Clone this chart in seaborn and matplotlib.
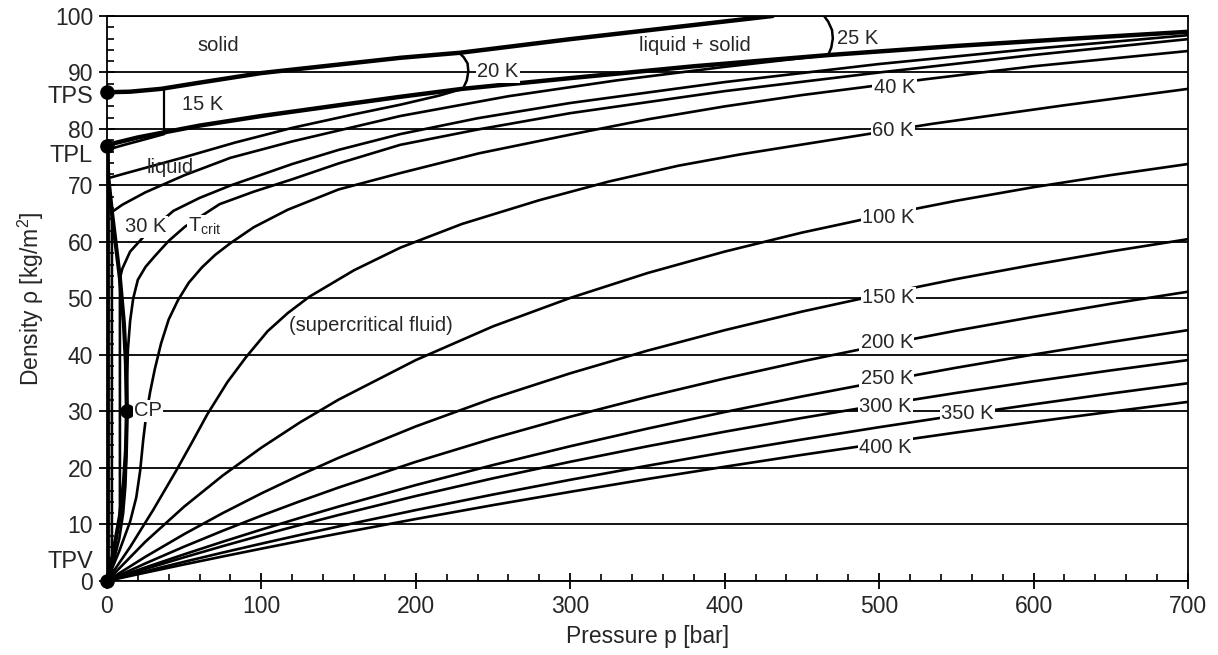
import matplotlib
matplotlib.use("Agg")
import matplotlib.pyplot as plt
from matplotlib.ticker import MultipleLocator
import seaborn as sns

# ── values (pressure in bar, density in kg/m3) ────────────────────────────
SOLID_P   = [0, 15, 35, 60, 100, 150, 190, 229, 300, 431]
SOLID_RHO = [86.5, 86.6, 87.1, 88.2, 89.9, 91.4, 92.6, 93.5, 95.9, 100.0]

MELT_P   = [0, 5, 20, 37, 60, 100, 150, 190, 230, 300, 380, 468, 550, 620, 700]
MELT_RHO = [77.0, 77.5, 78.5, 79.4, 80.6, 82.3, 84.2, 85.7, 87.1, 89.0, 91.1, 93.1, 94.7, 95.9, 97.2]

# saturation dome
DOME_LIQ_P   = [0, 0.9, 3.2, 8.4, 11, 12.3, 12.9]
DOME_LIQ_RHO = [77.0, 71.3, 65.3, 53.6, 45.5, 38.5, 30]
DOME_VAP_P   = [0, 0.9, 3.2, 8.4, 11, 12.3, 12.9]
DOME_VAP_RHO = [0, 1.2, 3.6, 11.5, 17.5, 23.0, 30]

# bracket-style isotherms in the liquid + solid region
K15_P, K15_RHO = [37, 37], [79.4, 87.1]
K20B_P   = [228, 231, 233.5, 234, 233, 230.5]
K20B_RHO = [93.5, 92.7, 91.6, 90.2, 88.6, 87.1]
K25B_P   = [463, 467, 469.5, 470, 469, 467]
K25B_RHO = [100.5, 99.0, 97.5, 96.0, 94.4, 93.1]

# liquid / supercritical isotherms
K15_LIQ_P, K15_LIQ_RHO = [0.1, 10, 25, 37], [76.3, 77.1, 78.2, 79.1]
K20_P   = [0.9, 0.9, 10, 30, 50, 83, 120, 160, 190, 215, 230]
K20_RHO = [1.2, 71.3, 72.0, 73.5, 75.0, 77.6, 80.2, 82.6, 84.3, 85.9, 87.1]
K25_P   = [3.2, 3.2, 10, 25, 50, 80, 120, 190, 260, 330, 400, 468]
K25_RHO = [3.6, 65.3, 66.6, 68.8, 71.8, 74.9, 77.8, 82.3, 85.8, 88.6, 91.0, 93.1]
K30_P   = [8.4, 8.4, 10, 15, 25, 43, 60, 80, 120, 150, 190, 240, 300, 400, 500, 600, 700]
K30_RHO = [11.5, 53.6, 55.3, 58.3, 61.3, 65.5, 67.8, 70.0, 73.8, 76.3, 79.1, 81.9,
           84.6, 88.3, 91.5, 94.2, 96.6]
KCRIT_P   = [0, 4, 8, 10.5, 12, 12.7, 12.9, 13.1, 13.6, 15, 17, 20, 25, 31, 40, 50.5,
             73, 95, 120, 150, 190, 240, 300, 400, 500, 600, 700]
KCRIT_RHO = [0, 3.2, 7.5, 12, 17, 23, 30, 36, 41, 46, 50, 53.3, 55.6, 57.5, 60.2, 62.7,
             66.7, 68.9, 71.1, 73.9, 77.2, 79.9, 82.8, 86.7, 90.0, 93.1, 95.9]
K40_P   = [0, 8, 15, 19, 21.5, 23.5, 25.5, 28, 31, 35, 40, 46, 53, 61.5, 70, 80, 95,
           117, 150, 190, 241, 300, 350, 400, 450, 490, 530, 600, 700]
K40_RHO = [0, 5.3, 10.5, 14.8, 19.5, 25.0, 29.5, 33.5, 37.5, 42.0, 46.3, 49.7, 52.8,
           55.5, 57.7, 59.8, 62.6, 65.7, 69.3, 72.2, 75.7, 79.0, 81.7, 84.0, 86.0,
           87.4, 88.8, 91.1, 93.8]
K60_P   = [0, 15, 30, 45, 55, 65, 78, 90, 104, 117, 131, 160, 190, 230, 280, 325, 370,
           410, 449, 534, 620, 700]
K60_RHO = [0, 6.0, 12.6, 19.6, 24.5, 29.5, 35.2, 39.6, 44.2, 47.4, 50.3, 55.0, 59.0,
           63.2, 67.4, 70.7, 73.5, 75.5, 77.2, 80.9, 84.2, 87.1]

GAS_P    = [0, 25, 50, 75, 100, 125, 150, 200, 250, 300, 350, 400, 450, 500, 550, 600, 650, 700]
K100_RHO = [0, 6.98, 13.16, 18.67, 23.6, 28.07, 32.1, 39.1, 45.07, 50.1, 54.50, 58.3,
            61.66, 64.6, 67.30, 69.7, 71.84, 73.8]
K150_RHO = [0, 4.30, 8.29, 12.02, 15.50, 18.75, 21.80, 27.36, 32.33, 36.76, 40.77,
            44.39, 47.68, 50.66, 53.44, 55.97, 58.33, 60.5]
K200_RHO = [0, 3.12, 6.08, 8.89, 11.56, 14.11, 16.54, 21.09, 25.25, 29.07, 32.59,
            35.84, 38.87, 41.67, 44.31, 46.75, 49.06, 51.2]
K250_RHO = [0, 2.41, 4.72, 6.95, 9.10, 11.17, 13.17, 16.98, 20.52, 23.85, 26.97,
            29.90, 32.66, 35.26, 37.75, 40.08, 42.29, 44.4]
K300_RHO = [0, 2.14, 4.19, 6.17, 8.08, 9.91, 11.68, 15.04, 18.17, 21.10, 23.84,
            26.42, 28.85, 31.13, 33.29, 35.34, 37.27, 39.1]
K350_RHO = [0, 1.72, 3.40, 5.03, 6.61, 8.15, 9.66, 12.55, 15.30, 17.91, 20.40,
            22.78, 25.04, 27.22, 29.29, 31.27, 33.18, 35.0]
K400_RHO = [0, 1.48, 2.93, 4.34, 5.72, 7.08, 8.40, 10.97, 13.43, 15.78, 18.05,
            20.22, 22.32, 24.33, 26.28, 28.15, 29.95, 31.7]

# special points
POINT_NAMES = ["TPS", "TPL", "TPV", "CP"]
POINT_P     = [0, 0, 0, 12.9]
POINT_RHO   = [86.5, 77.0, 0, 30]

# curve labels: text, pressure, density
CURVE_LABELS = [
    ("20 K", 253, 90.1), ("25 K", 486, 96.1), ("40 K", 510, 87.4),
    ("60 K", 509, 79.8), ("100 K", 506, 64.4), ("150 K", 506, 50.1),
    ("200 K", 505, 42.2), ("250 K", 505, 35.8), ("300 K", 504, 30.8),
    ("350 K", 557, 29.7), ("400 K", 504, 23.7), ("30 K", 25, 62.7),
    ("T$_{\\mathrm{crit}}$", 63.5, 62.7), ("CP", 26.5, 30.1),
]
REGION_LABELS = [
    ("solid", 72, 94.7), ("15 K", 62, 84.4), ("liquid + solid", 381, 94.7),
    ("liquid", 41, 73.1),
]

sns.set_style("white")
plt.rcParams["font.family"] = ["Liberation Sans", "DejaVu Sans"]
plt.rcParams["mathtext.fontset"] = "custom"
plt.rcParams["mathtext.rm"] = "Liberation Sans"
plt.rcParams["mathtext.it"] = "Liberation Sans"

fig = plt.figure(figsize=(12.18, 6.55), dpi=100)
ax = fig.add_axes([0.0878, 0.1130, 0.8876, 0.8626])


def curve(p, rho, lw=1.9):
    sns.lineplot(x=p, y=rho, sort=False, estimator=None, color="black",
                 linewidth=lw, ax=ax, zorder=3)


# thick phase boundaries
curve([0, 0], [0, 77.0], lw=4.0)
curve(SOLID_P, SOLID_RHO, lw=3.2)
curve(MELT_P, MELT_RHO, lw=3.2)
curve(DOME_LIQ_P, DOME_LIQ_RHO, lw=3.0)
curve(DOME_VAP_P, DOME_VAP_RHO, lw=3.0)

# isotherms
curve(K15_P, K15_RHO, lw=1.6)
curve(K20B_P, K20B_RHO, lw=1.8)
curve(K25B_P, K25B_RHO, lw=1.8)
curve(K15_LIQ_P, K15_LIQ_RHO)
for p, rho in [(K20_P, K20_RHO), (K25_P, K25_RHO), (K30_P, K30_RHO),
               (KCRIT_P, KCRIT_RHO), (K40_P, K40_RHO), (K60_P, K60_RHO)]:
    curve(p, rho)
for rho in [K100_RHO, K150_RHO, K200_RHO, K250_RHO, K300_RHO, K350_RHO, K400_RHO]:
    curve(GAS_P, rho)

# triple points and critical point
ax.scatter(POINT_P, POINT_RHO, s=90, color="black", zorder=5, clip_on=False)
for name, rho in zip(POINT_NAMES[:3], [85.7, 75.2, 3.4]):
    ax.text(-0.013, rho, name, transform=ax.get_yaxis_transform(),
            ha="right", va="center", fontsize=17)

box = dict(facecolor="white", edgecolor="none", pad=1.0)
for text, p, rho in CURVE_LABELS:
    ax.text(p, rho, text, ha="center", va="center", fontsize=14.5,
            bbox=box, zorder=6)
for text, p, rho in REGION_LABELS:
    ax.text(p, rho, text, ha="center", va="center", fontsize=14.5, zorder=6)
ax.text(118, 45.3, "(supercritical fluid)", ha="left", va="center",
        fontsize=14.5, zorder=6)

# axes, grid, ticks
ax.set_xlim(0, 700)
ax.set_ylim(0, 100)
ax.xaxis.set_major_locator(MultipleLocator(100))
ax.xaxis.set_minor_locator(MultipleLocator(20))
ax.yaxis.set_major_locator(MultipleLocator(10))
ax.yaxis.set_minor_locator(MultipleLocator(2))
ax.yaxis.grid(True, color="black", linewidth=1.3)
ax.xaxis.grid(False)
ax.set_axisbelow(True)
ax.tick_params(which="major", direction="inout", length=12, width=1.3,
               labelsize=16.5, color="black", pad=4)
ax.tick_params(which="minor", direction="in", length=5, width=1.2, color="black")
ax.tick_params(axis="both", which="both", bottom=True, left=True)
for side in ax.spines.values():
    side.set_color("black")
    side.set_linewidth(1.3)

ax.set_xlabel("Pressure p [bar]", fontsize=16.5, labelpad=5)
ax.set_ylabel("Density ρ [kg/m$^2$]", fontsize=16.5, labelpad=6)

fig.savefig("out.png", dpi=100)
plt.close(fig)
